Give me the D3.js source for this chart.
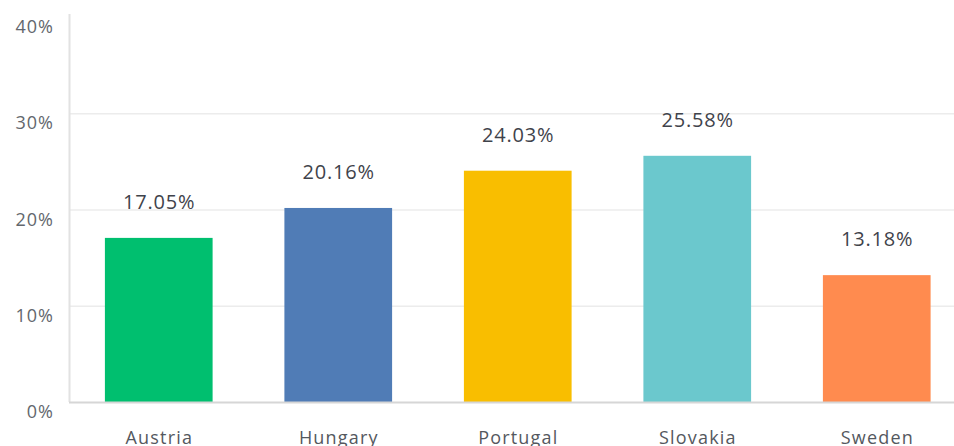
<!DOCTYPE html>
<html>
<head>
<meta charset="utf-8">
<script src="https://cdn.jsdelivr.net/npm/d3@7"></script>
<style>
  html, body { margin: 0; padding: 0; background: #fff; overflow: hidden; }
  svg { display: block; font-family: "Open Sans", sans-serif; }
</style>
</head>
<body>
<div class="chart-wrapper"></div>
<script>
// chart data
const countries = ["Austria", "Hungary", "Portugal", "Slovakia", "Sweden"];
const shares = [17.05, 20.16, 24.03, 25.58, 13.18];
const barColors = ["#00bf6f", "#507cb6", "#f9be00", "#6bc8cd", "#ff8b4f"];
const yTicks = [0, 10, 20, 30, 40];

const width = 954, height = 446;

const svg = d3.select(".chart-wrapper")
  .append("svg")
  .attr("width", width)
  .attr("height", height);

// scales
const x = d3.scaleBand()
  .domain(countries)
  .range([69, 966.5])
  .paddingInner(0.4)
  .paddingOuter(0.2);

const y = d3.scaleLinear()
  .domain([0, 40])
  .range([402, 17]);

// gridlines (no line at the top tick)
svg.append("g")
  .attr("class", "grid")
  .selectAll("line")
  .data(yTicks.filter(t => t > 0 && t < 40))
  .enter()
  .append("line")
  .attr("x1", 69)
  .attr("x2", width)
  .attr("y1", d => y(d) + 0.5)
  .attr("y2", d => y(d) + 0.5)
  .style("stroke", "#ececec")
  .style("stroke-width", 1.5);

// y tick labels, sitting just under each gridline
svg.append("g")
  .attr("class", "y-labels")
  .selectAll("text")
  .data(yTicks)
  .enter()
  .append("text")
  .attr("x", 54)
  .attr("y", d => y(d) + 16)
  .attr("text-anchor", "end")
  .style("font-size", "18px")
  .style("letter-spacing", "1px")
  .style("fill", "#63676d")
  .text(d => d + "%");

// vertical axis line
svg.append("line")
  .attr("x1", 69.5)
  .attr("x2", 69.5)
  .attr("y1", 14)
  .attr("y2", y(0))
  .style("stroke", "#e2e2e2")
  .style("stroke-width", 2);

// bars
svg.append("g")
  .attr("class", "bars")
  .selectAll("rect")
  .data(countries)
  .enter()
  .append("rect")
  .attr("x", d => x(d))
  .attr("y", (d, i) => y(shares[i]))
  .attr("width", x.bandwidth())
  .attr("height", (d, i) => y(0) - y(shares[i]))
  .style("fill", (d, i) => barColors[i]);

// baseline
svg.append("line")
  .attr("x1", 69)
  .attr("x2", width)
  .attr("y1", y(0) + 0.5)
  .attr("y2", y(0) + 0.5)
  .style("stroke", "#d6d6d6")
  .style("stroke-width", 2);

// value labels
svg.append("g")
  .attr("class", "values")
  .selectAll("text")
  .data(countries)
  .enter()
  .append("text")
  .attr("x", d => x(d) + x.bandwidth() / 2 + 0.4)
  .attr("y", (d, i) => y(shares[i]) - 29)
  .attr("text-anchor", "middle")
  .style("font-size", "20px")
  .style("letter-spacing", "0.8px")
  .style("fill", "#3f434b")
  .text((d, i) => shares[i].toFixed(2) + "%");

// category labels
svg.append("g")
  .attr("class", "x-labels")
  .selectAll("text")
  .data(countries)
  .enter()
  .append("text")
  .attr("x", d => x(d) + x.bandwidth() / 2 + 0.6)
  .attr("y", 444)
  .attr("text-anchor", "middle")
  .style("font-size", "18px")
  .style("letter-spacing", "1.2px")
  .style("fill", "#54585e")
  .text(d => d);
</script>
</body>
</html>
